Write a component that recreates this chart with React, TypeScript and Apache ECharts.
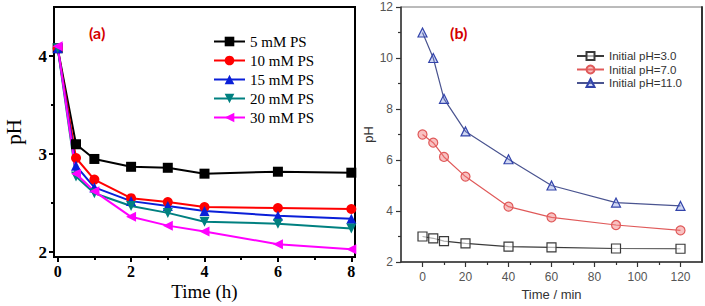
import React, { useEffect, useRef } from "react";
import * as echarts from "echarts";

// Panel (a)
const hoursA = [0, 0.5, 1, 2, 3, 4, 6, 8];
const ps5 = [4.08, 3.1, 2.95, 2.87, 2.86, 2.8, 2.82, 2.81];
const ps10 = [4.08, 2.96, 2.74, 2.55, 2.51, 2.46, 2.45, 2.44];
const ps15 = [4.08, 2.88, 2.66, 2.52, 2.47, 2.42, 2.37, 2.34];
const ps20 = [4.08, 2.77, 2.6, 2.47, 2.4, 2.31, 2.29, 2.24];
const ps30 = [4.1, 2.8, 2.62, 2.36, 2.27, 2.21, 2.08, 2.03];
const namesA = ["5 mM PS", "10 mM PS", "15 mM PS", "20 mM PS", "30 mM PS"];
const ticksAx = [0, 2, 4, 6, 8];
const minorAx = [1, 3, 5, 7];
const ticksAy = [2, 3, 4];
const minorAy = [2.5, 3.5];

// Panel (b)
const minutesB = [0, 5, 10, 20, 40, 60, 90, 120];
const ph3 = [3.0, 2.93, 2.82, 2.73, 2.6, 2.57, 2.53, 2.52];
const ph7 = [7.0, 6.68, 6.12, 5.35, 4.17, 3.75, 3.45, 3.24];
const ph11 = [11.0, 10.0, 8.4, 7.12, 6.03, 5.0, 4.33, 4.2];
const namesB = ["Initial pH=3.0", "Initial pH=7.0", "Initial pH=11.0"];
const ticksBx = [0, 20, 40, 60, 80, 100, 120];
const minorBx = [10, 30, 50, 70, 90, 110];
const ticksBy = [2, 4, 6, 8, 10, 12];
const minorBy = [3, 5, 7, 9, 11];

const SERIF = "'Liberation Serif', 'DejaVu Serif', serif";
const SANS = "'Liberation Sans', Arial, sans-serif";

const pairs = (xs: number[], ys: number[]) => xs.map((x, i) => [x, ys[i]]);

export default function App() {
  const ref = useRef<HTMLDivElement>(null);
  useEffect(() => {
    document.body.style.margin = "0";
    const chart = echarts.init(ref.current!, undefined, { renderer: "svg" });

    const seriesA = [
      { name: namesA[0], data: ps5, color: "#000000", symbol: "rect", rotate: 0 },
      { name: namesA[1], data: ps10, color: "#ff0000", symbol: "circle", rotate: 0 },
      { name: namesA[2], data: ps15, color: "#0a1fd8", symbol: "triangle", rotate: 0 },
      { name: namesA[3], data: ps20, color: "#008080", symbol: "triangle", rotate: 180 },
      { name: namesA[4], data: ps30, color: "#ff00ff", symbol: "triangle", rotate: 90 },
    ].map((s) => ({
      type: "line",
      name: s.name,
      xAxisIndex: 0,
      yAxisIndex: 0,
      data: pairs(hoursA, s.data),
      symbol: s.symbol,
      symbolRotate: s.rotate,
      symbolSize: 10,
      showSymbol: true,
      lineStyle: { color: s.color, width: 2 },
      itemStyle: { color: s.color, borderWidth: 0 },
      z: 3,
    }));

    const seriesB = [
      { name: namesB[0], data: ph3, color: "#3a3a3a", line: "#3a3a3a", fill: "rgba(255,255,255,0.6)", symbol: "rect" },
      { name: namesB[1], data: ph7, color: "#e05a5a", line: "#e05a5a", fill: "rgba(240,120,120,0.45)", symbol: "circle" },
      { name: namesB[2], data: ph11, color: "#3344aa", line: "#4a5490", fill: "rgba(120,140,220,0.35)", symbol: "triangle" },
    ].map((s) => ({
      type: "line",
      name: s.name,
      xAxisIndex: 2,
      yAxisIndex: 2,
      data: pairs(minutesB, s.data),
      symbol: s.symbol,
      symbolSize: 9,
      showSymbol: true,
      lineStyle: { color: s.line, width: 1.2 },
      itemStyle: { color: s.fill, borderColor: s.color, borderWidth: 1.2 },
      z: 3,
    }));

    const tick = (vals: number[], color: string, len: number, width: number) => ({
      show: true,
      inside: false,
      length: len,
      customValues: vals,
      lineStyle: { color, width },
    });

    const minorAxis = (gridIndex: number, min: number, max: number, pos: string, vals: number[], color: string, width: number) => ({
      type: "value", gridIndex, min, max, position: pos,
      axisLine: { show: false, onZero: false },
      axisTick: tick(vals, color, 3, width),
      axisLabel: { show: false, customValues: vals },
      splitLine: { show: false },
    });

    const option: any = {
      animation: false,
      backgroundColor: "#ffffff",
      grid: [
        { left: 54, top: 7, width: 301, height: 250, show: true, borderColor: "#000", borderWidth: 2, backgroundColor: "transparent", containLabel: false, outerBoundsMode: "none" },
        { left: 401, top: 7, width: 301, height: 255, show: true, borderColor: "#777", borderWidth: 1, backgroundColor: "transparent", containLabel: false, outerBoundsMode: "none" },
      ],
      xAxis: [
        {
          type: "value", gridIndex: 0, min: -0.1, max: 8.1, position: "bottom",
          axisLine: { show: true, onZero: false, lineStyle: { color: "#000", width: 2 } },
          axisTick: tick(ticksAx, "#000", 5, 2),
          axisLabel: { customValues: ticksAx, margin: 6, color: "#000", fontFamily: SERIF, fontWeight: "bold", fontSize: 16, lineHeight: 17 },
          splitLine: { show: false },
          name: "Time (h)", nameLocation: "middle", nameGap: 24, nameMoveOverlap: false,
          nameTextStyle: { fontFamily: SERIF, fontSize: 19, color: "#000", verticalAlign: "top", lineHeight: 20 },
        },
        minorAxis(0, -0.1, 8.1, "bottom", minorAx, "#000", 2),
        {
          type: "value", gridIndex: 1, min: -10, max: 130, position: "bottom",
          axisLine: { show: true, onZero: false, lineStyle: { color: "#333", width: 1.5 } },
          axisTick: tick(ticksBx, "#333", 5, 1.2),
          axisLabel: { customValues: ticksBx, margin: 8, color: "#555", fontFamily: SANS, fontSize: 12, lineHeight: 13 },
          splitLine: { show: false },
          name: "Time / min", nameLocation: "middle", nameGap: 25, nameMoveOverlap: false,
          nameTextStyle: { fontFamily: SANS, fontSize: 13, color: "#333", verticalAlign: "top", lineHeight: 14 },
        },
        minorAxis(1, -10, 130, "bottom", minorBx, "#333", 1.2),
      ],
      yAxis: [
        {
          type: "value", gridIndex: 0, min: 1.95, max: 4.5, position: "left",
          axisLine: { show: true, onZero: false, lineStyle: { color: "#000", width: 2 } },
          axisTick: tick(ticksAy, "#000", 5, 2),
          axisLabel: { customValues: ticksAy, margin: 7, color: "#000", fontFamily: SERIF, fontWeight: "bold", fontSize: 17 },
          splitLine: { show: false },
          name: "pH", nameLocation: "middle", nameGap: 30, nameMoveOverlap: false,
          nameTextStyle: { fontFamily: SERIF, fontSize: 21, color: "#000" },
        },
        minorAxis(0, 1.95, 4.5, "left", minorAy, "#000", 2),
        {
          type: "value", gridIndex: 1, min: 2, max: 12, position: "left",
          axisLine: { show: true, onZero: false, lineStyle: { color: "#333", width: 1.5 } },
          axisTick: tick(ticksBy, "#333", 5, 1.2),
          axisLabel: { customValues: ticksBy, margin: 8, color: "#555", fontFamily: SANS, fontSize: 12 },
          splitLine: { show: false },
          name: "pH", nameLocation: "middle", nameGap: 26, nameMoveOverlap: false,
          nameTextStyle: { fontFamily: SANS, fontSize: 13, color: "#333" },
        },
        minorAxis(1, 2, 12, "left", minorBy, "#333", 1.2),
        {
          type: "value", gridIndex: 1, min: 2, max: 12, position: "right",
          axisLine: { show: true, onZero: false, lineStyle: { color: "#333", width: 2 } },
          axisTick: { show: false },
          axisLabel: { show: false },
          splitLine: { show: false },
        },
      ],
      legend: [
        {
          data: namesA, orient: "vertical", left: 213, top: 34,
          itemWidth: 31, itemHeight: 12, itemGap: 4, padding: 0,
          textStyle: { fontFamily: SERIF, fontSize: 15, color: "#000" },
        },
        {
          data: namesB, orient: "vertical", left: 576, top: 50,
          itemWidth: 27, itemHeight: 10, itemGap: 1.5, padding: 0,
          textStyle: { fontFamily: SANS, fontSize: 11.5, color: "#333" },
        },
      ],
      graphic: [
        { type: "text", left: 89, top: 24, style: { text: "(a)", fill: "#d40000", font: "bold 16px Lato, 'Open Sans', sans-serif" } },
        { type: "text", left: 450, top: 24, style: { text: "(b)", fill: "#d40000", font: "bold 16px Lato, 'Open Sans', sans-serif" } },
      ],
      series: [...seriesA, ...seriesB],
    };

    chart.setOption(option);
    return () => chart.dispose();
  }, []);

  return <div ref={ref} style={{ width: 705, height: 306 }} />;
}
